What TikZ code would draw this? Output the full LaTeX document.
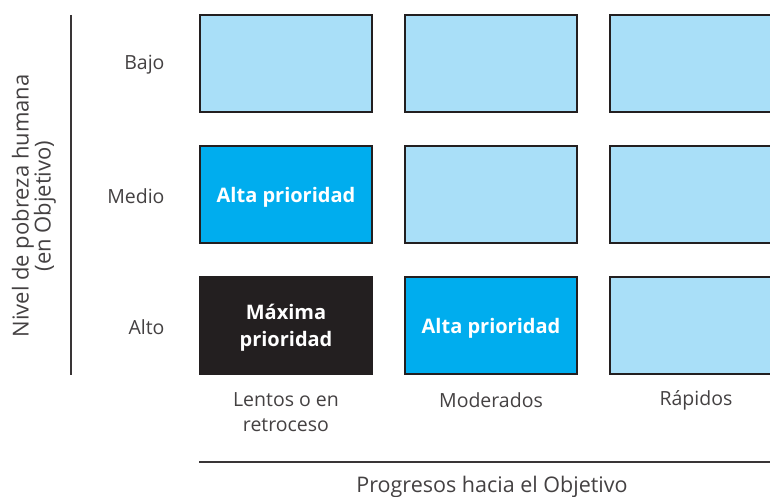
\documentclass[tikz,border=0pt]{standalone}
\usepackage{fontspec}
\setmainfont{Open Sans}
\definecolor{celeste}{HTML}{A9DFF8}
\definecolor{azul}{HTML}{00ADEE}
\definecolor{negro}{HTML}{231F20}
\begin{document}
\begin{tikzpicture}[x=1pt, y=-1pt,
	celda/.style={rectangle, draw=negro, line width=2.5pt, fill=celeste, minimum width=172pt, minimum height=97pt, inner sep=0pt, text=white, text depth=0pt, font=\fontsize{20}{27}\selectfont\bfseries, align=center},
	etiqueta/.style={font=\fontsize{19.5}{24.5}\selectfont, text=negro!85, align=center},
	eje/.style={draw=negro!90, line width=2pt}]
	
	\clip (0,0) rectangle (770,497);
	
	% Row 1: Bajo
	\node[etiqueta, anchor=east] (bajo) at (168,65) {Bajo};
	\node[celda] (c11) at (286,63.5) {};
	\node[celda] (c12) at (491,63.5) {};
	\node[celda] (c13) at (696,63.5) {};
	
	% Row 2: Medio
	\node[etiqueta, anchor=east] (medio) at (168,196) {Medio};
	\node[celda, fill=azul] (c21) at (286,194.5) {Alta prioridad};
	\node[celda] (c22) at (491,194.5) {};
	\node[celda] (c23) at (696,194.5) {};
	
	% Row 3: Alto
	\node[etiqueta, anchor=east] (alto) at (168,327) {Alto};
	\node[celda, fill=negro] (c31) at (286,325.5) {Máxima\\prioridad};
	\node[celda, fill=azul] (c32) at (491,325.5) {Alta prioridad};
	\node[celda] (c33) at (696,325.5) {};
	
	% Column labels
	\node[etiqueta] (lentos) at (286,412) {Lentos o en\\retroceso};
	\node[etiqueta] (moderados) at (491,400) {Moderados};
	\node[etiqueta] (rapidos) at (696,400) {Rápidos};
	
	% Axes
	\coordinate (v1) at (71,15);
	\coordinate (v2) at (71,375);
	\draw[eje] (v1) -- (v2);
	\node[etiqueta, rotate=90, font=\fontsize{22}{22}\selectfont] (nivel) at (34,206) {Nivel de pobreza humana\\(en Objetivo)};
	
	\coordinate (h1) at (199,462);
	\coordinate (h2) at (770,462);
	\draw[eje] (h1) -- (h2);
	\node[etiqueta, font=\fontsize{21.5}{24}\selectfont] (progresos) at (492,487) {Progresos hacia el Objetivo};
	
\end{tikzpicture}
\end{document}
